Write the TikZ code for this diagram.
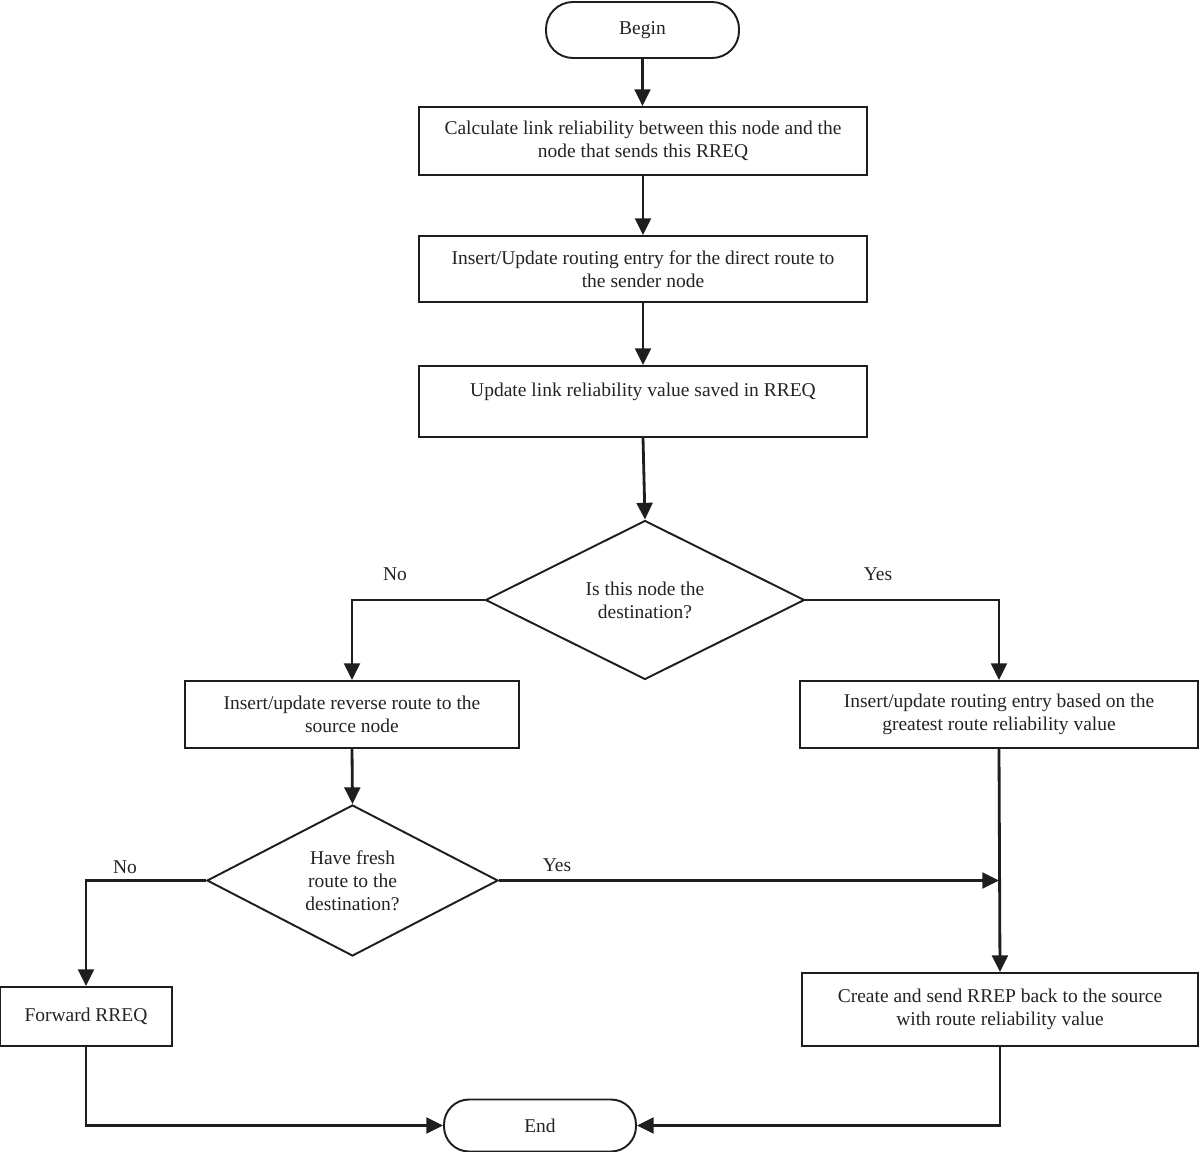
\documentclass[tikz,border=0pt]{standalone}
\usepackage{fontspec}
\setmainfont{Liberation Serif}
\usetikzlibrary{shapes.geometric,arrows.meta}
\definecolor{ink}{RGB}{30,30,30}
\definecolor{txt}{RGB}{35,35,35}
\begin{document}
\begin{tikzpicture}[x=0.02cm,y=-0.02cm,
  font=\fontsize{11.1}{13}\selectfont,
  box/.style={draw=ink,line width=1.1pt,rectangle,align=center,text=txt,inner sep=0pt},
  term/.style={draw=ink,line width=1.1pt,rectangle,rounded corners=0.54cm,text=txt,inner sep=0pt},
  decision/.style={draw=ink,line width=1.1pt,diamond,aspect=2,inner sep=0pt,align=center,text=txt},
  conn/.style={draw=ink,line width=1.6pt,-{Triangle[length=9.5pt,width=9pt]}},
  lbl/.style={text=txt,inner sep=0pt}]
\useasboundingbox (0,0) rectangle (1200,1152);
\fill[white] (0,0) rectangle (1200,1152);

\node[term,minimum width=193*0.02cm,minimum height=56*0.02cm] (begin) at (642.5,30) {Begin};
\node[box,minimum width=448*0.02cm,minimum height=68*0.02cm] (b1) at (643,141) {Calculate link reliability between this node and the\\node that sends this RREQ};
\node[box,minimum width=448*0.02cm,minimum height=66*0.02cm] (b2) at (643,269) {Insert/Update routing entry for the direct route to\\the sender node};
\node[box,minimum width=448*0.02cm,minimum height=71*0.02cm] (b3) at (643,401.5) {Update link reliability value saved in RREQ\\\mbox{}};
\node[decision,minimum width=319*0.02cm,minimum height=159*0.02cm] (d1) at (645,600) {Is this node the\\destination?};
\node[box,minimum width=334*0.02cm,minimum height=67*0.02cm] (b4) at (352,714.5) {Insert/update reverse route to the\\source node};
\node[box,minimum width=398*0.02cm,minimum height=67*0.02cm] (b5) at (999,714.5) {Insert/update routing entry based on the\\greatest route reliability value};
\node[decision,minimum width=291*0.02cm,minimum height=151*0.02cm] (d2) at (352.5,880.5) {Have fresh\\route to the\\destination?};
\node[box,minimum width=172*0.02cm,minimum height=59*0.02cm] (fwd) at (86,1016.5) {Forward RREQ};
\node[box,minimum width=396*0.02cm,minimum height=73*0.02cm] (b6) at (1000,1009.5) {Create and send RREP back to the source\\with route reliability value};
\node[term,minimum width=192*0.02cm,minimum height=52*0.02cm,rounded corners=0.5cm] (end) at (540,1125.5) {End};

\coordinate (j) at (b5.south |- d2.east);

\draw[conn] (begin.south) -- (begin.south |- b1.north);
\draw[conn] (b1.south) -- (b2.north);
\draw[conn] (b2.south) -- (b3.north);
\draw[conn] (b3.south) -- (d1.north);
\draw[conn] (d1.west) -| (b4.north);
\draw[conn] (d1.east) -| (b5.north);
\draw[conn] (b4.south) -- (d2.north);
\draw[conn] (d2.west) -| (fwd.north);
\draw[conn] (d2.east) -- (j);
\draw[conn] (b5.south) -- (b6.north);
\draw[conn] (fwd.south) |- (end.west);
\draw[conn] (b6.south) |- (end.east);

\node[lbl] (no1) at (395,574) {No};
\node[lbl] (yes1) at (878,574) {Yes};
\node[lbl] (no2) at (125,867) {No};
\node[lbl] (yes2) at (557,865) {Yes};
\end{tikzpicture}
\end{document}
